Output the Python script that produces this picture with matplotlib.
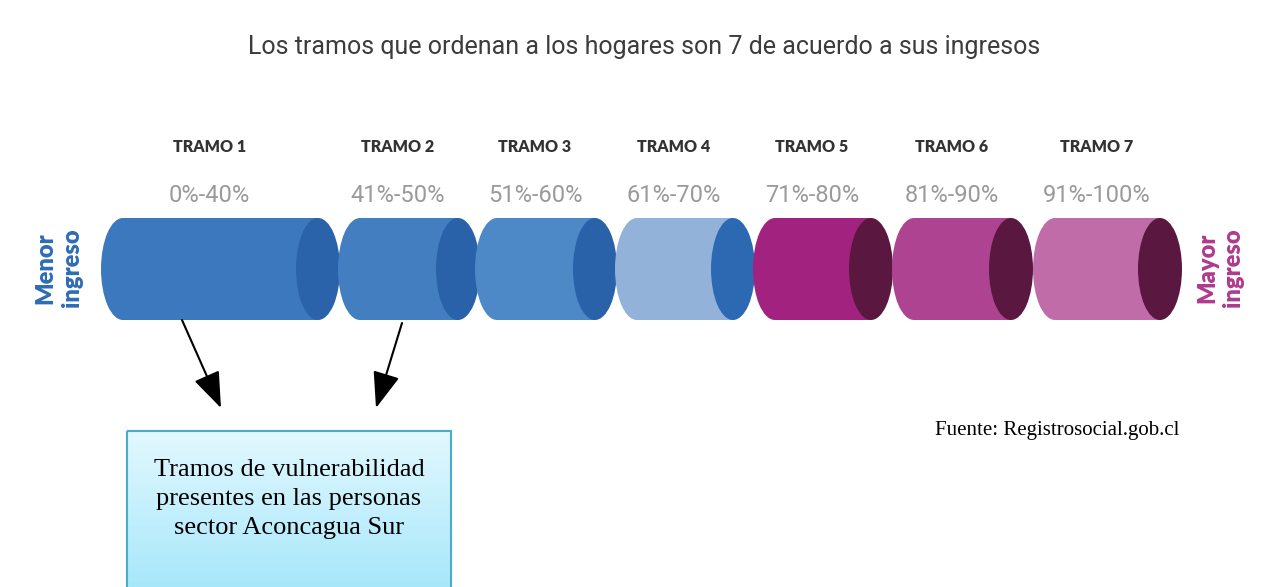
import numpy as np
import matplotlib.pyplot as plt
from matplotlib.patches import Ellipse, Rectangle
from matplotlib.colors import LinearSegmentedColormap

# %% Data
tramos = ["TRAMO 1", "TRAMO 2", "TRAMO 3", "TRAMO 4", "TRAMO 5", "TRAMO 6", "TRAMO 7"]
rangos = ["0%-40%", "41%-50%", "51%-60%", "61%-70%", "71%-80%", "81%-90%", "91%-100%"]
body_colors = ["#3b78be", "#437fc0", "#4d88c7", "#93b2d9", "#a1237f", "#ae4392", "#c06ca8"]
end_colors = ["#2b63aa", "#2a62a9", "#2a62a9", "#2d69b3", "#5a1840", "#5a1840", "#5a1840"]

# layout of the cylinders (pixel units of the picture)
cyl_left = [101, 338, 475, 615, 753, 892, 1033]
cyl_right = [340, 480, 617, 755, 893, 1033, 1182]
cyl_top, cyl_bot = 218, 320

title = "Los tramos que ordenan a los hogares son 7 de acuerdo a sus ingresos"
fuente = "Fuente: Registrosocial.gob.cl"
box_text = "Tramos de vulnerabilidad\npresentes en las personas\nsector Aconcagua Sur"

narrow = ["Roboto", "DejaVu Sans"]
serif = ["Liberation Serif", "DejaVu Serif"]
heavy = ["Lato", "DejaVu Sans"]

# %% Figure
fig = plt.figure(figsize=(12.65, 5.87), dpi=100)
ax = fig.add_axes([0, 0, 1, 1])
ax.set_xlim(0, 1265)
ax.set_ylim(587, 0)
ax.axis("off")

ax.text(644, 47, title, ha="center", va="center", fontsize=18,
        color="#3c3c3c", family=narrow)

cy = (cyl_top + cyl_bot) / 2
h = cyl_bot - cyl_top
a = 22  # half width of the end ellipses
for i in range(len(tramos)):
    L, R = cyl_left[i], cyl_right[i]
    # rounded back + body
    ax.add_patch(Ellipse((L + a, cy), 2 * a, h, color=body_colors[i], lw=0, zorder=2 + i))
    ax.add_patch(Rectangle((L + a, cyl_top), R - L - 2 * a, h, color=body_colors[i], lw=0, zorder=2 + i))
    # darker end
    ax.add_patch(Ellipse((R - a, cy), 2 * a, h, color=end_colors[i], lw=0, zorder=2 + i))
    xc = (L + R - a) / 2
    ax.text(xc, 147, tramos[i], ha="center", va="center", fontsize=11.5,
            fontweight="heavy", color="#333333", family=heavy)
    ax.text(xc, 196, rangos[i], ha="center", va="center", fontsize=17,
            color="#9a9a9a", family=narrow)

# side labels
for x, s, c in [(45, "Menor", "#2d6cb5"), (72, "ingreso", "#2d6cb5"),
                (1207, "Mayor", "#b03a8e"), (1233, "ingreso", "#b03a8e")]:
    ax.text(x, 268, s, rotation=90, ha="center", va="center", fontsize=17,
            fontweight="heavy", color=c, family=heavy)

# arrows towards the box
for (x0, y0), (x1, y1) in [((182, 320), (221, 408)), ((402, 323), (376, 408))]:
    ax.annotate("", xy=(x1, y1), xytext=(x0, y0),
                arrowprops=dict(arrowstyle="-|>,head_length=0.8,head_width=0.3",
                                color="black", lw=1.5, mutation_scale=28,
                                shrinkA=0, shrinkB=0))

# gradient box
bx0, bx1, by0, by1 = 127, 451, 431, 592
grad = np.linspace(0, 1, 100)[:, None]
ax.imshow(grad, cmap=LinearSegmentedColormap.from_list("box", ["#e2f8fe", "#a6e7fb"]),
          extent=(bx0, bx1, by1, by0), aspect="auto", zorder=1)
ax.add_patch(Rectangle((bx0, by0), bx1 - bx0, by1 - by0, fill=False,
                       edgecolor="#4bacc6", lw=1.5, zorder=3))
ax.text((bx0 + bx1) / 2, 499, box_text, ha="center", va="center", fontsize=19,
        linespacing=1.4, color="black", family=serif, zorder=4)

ax.text(935, 430, fuente, ha="left", va="center", fontsize=15,
        color="black", family=serif)

ax.set_xlim(0, 1265)
ax.set_ylim(587, 0)
fig.savefig("out.png", dpi=100)
